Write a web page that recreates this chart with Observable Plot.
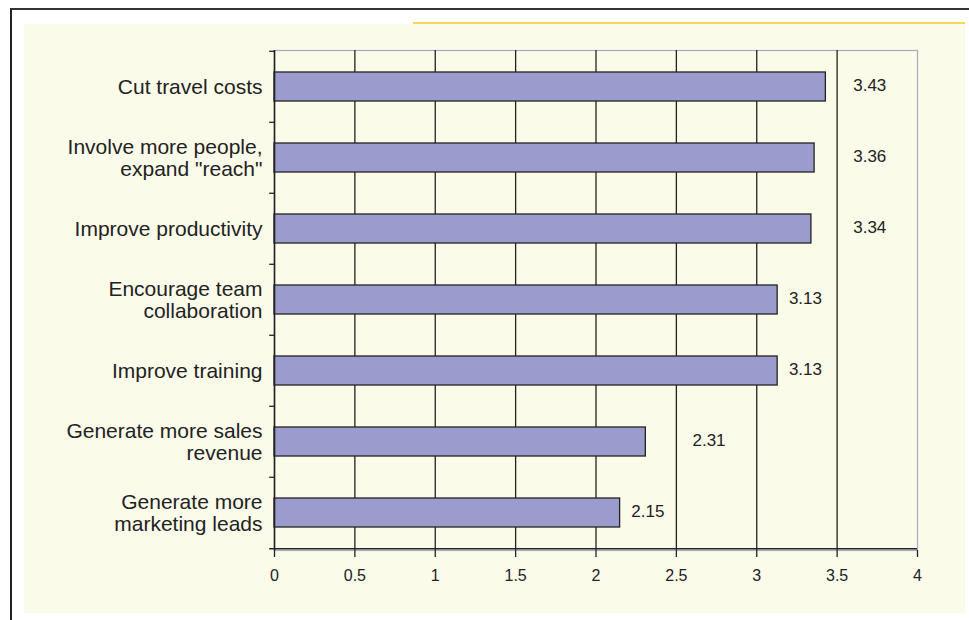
<!DOCTYPE html>
<html>
<head>
<meta charset="utf-8">
<script src="https://cdn.jsdelivr.net/npm/d3@7"></script>
<script src="https://cdn.jsdelivr.net/npm/@observablehq/plot@0.6"></script>
<style>
  html, body { margin: 0; padding: 0; background: #ffffff; }
  #page { position: relative; width: 969px; height: 620px; overflow: hidden; font-family: "Liberation Sans", Arial, sans-serif; }
  #frame { position: absolute; left: 10px; top: 8px; width: 970px; height: 620px; border-left: 2px solid #222; border-top: 2px solid #333; box-sizing: border-box; }
  #cream { position: absolute; left: 24px; top: 24px; width: 941px; height: 589px; background: #fbfbea; }
  #yellow { position: absolute; left: 413px; top: 22px; width: 552px; height: 2px; background: #f7d85a; }
  #chart { position: absolute; left: 0; top: 0; }
</style>
</head>
<body>
<div id="page">
  <div id="frame"></div>
  <div id="cream"></div>
  <div id="yellow"></div>
  <div id="chart"></div>
</div>
<script>
const categories = [
  "Cut travel costs",
  "Involve more people,\nexpand \"reach\"",
  "Improve productivity",
  "Encourage team\ncollaboration",
  "Improve training",
  "Generate more sales\nrevenue",
  "Generate more\nmarketing leads"
];
const values = [3.43, 3.36, 3.34, 3.13, 3.13, 2.31, 2.15];
const xTicks = [0, 0.5, 1, 1.5, 2, 2.5, 3, 3.5, 4];

const data = categories.map((c, i) => ({label: c, value: values[i]}));
const gridTicks = xTicks.filter(t => t > 0 && t < 4);
const W = 969, H = 620;
const mT = 50, mB = 70;
const step = (H - mT - mB) / categories.length;

// place each value label just past its bar, but move it past a gridline it would cross
const gap = 0.07, labelW = 0.22;
function labelX(v) {
  const lx = v + gap;
  const g = Math.ceil(v * 2) / 2;
  return (lx + labelW > g) ? g + 0.1 : lx;
}

const chart = Plot.plot({
  width: W,
  height: H,
  marginLeft: 274,
  marginRight: 52,
  marginTop: mT,
  marginBottom: mB,
  style: {background: "transparent", fontFamily: "'Liberation Sans', Arial, sans-serif", color: "#222"},
  x: {domain: [0, 4], ticks: xTicks},
  y: {domain: categories, paddingInner: 0.59, paddingOuter: 0.295},
  marks: [
    Plot.frame({stroke: "#a8a8c0", strokeWidth: 1.2}),
    Plot.ruleX(gridTicks, {stroke: "#222", strokeWidth: 1.3}),
    Plot.barX(data, {x: "value", y: "label", fill: "#9b9bcd", stroke: "#222", strokeWidth: 1.3}),
    Plot.ruleX([0], {stroke: "#222", strokeWidth: 1.6}),
    Plot.ruleY(categories, {y: d => d, x1: -0.03, x2: 0, dy: -step / 2, stroke: "#222", strokeWidth: 1.3}),
    Plot.ruleY([categories[categories.length - 1]], {y: d => d, x1: -0.03, x2: 4, dy: step / 2, stroke: "#222", strokeWidth: 1.6}),
    Plot.axisX({ticks: xTicks, tickSize: 7, tickPadding: 12, fontSize: 16, tickFormat: d => String(d), stroke: "#222", fill: "#222", label: null, strokeWidth: 1.3}),
    Plot.axisY({tickSize: 0, tickPadding: 12, fontSize: 21, lineHeight: 1.05, fill: "#222", label: null}),
    Plot.text(data, {x: d => labelX(d.value), y: "label", text: d => d.value.toFixed(2), dy: -1, textAnchor: "start", fontSize: 17, fill: "#222"})
  ]
});
document.getElementById("chart").appendChild(chart);
</script>
</body>
</html>
